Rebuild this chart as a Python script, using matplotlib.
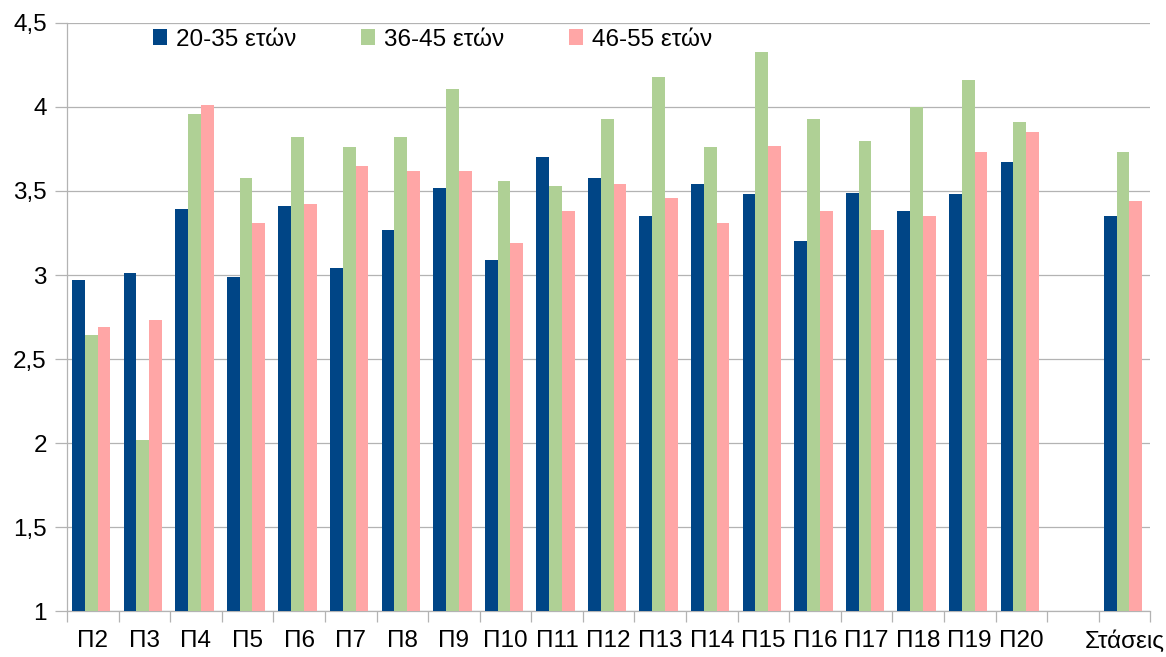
import numpy as np
import matplotlib
matplotlib.use("Agg")
import matplotlib.pyplot as plt
from matplotlib.patches import Patch

plt.rcParams['font.family'] = ['Liberation Sans', 'DejaVu Sans']

categories = ["Π2", "Π3", "Π4", "Π5", "Π6", "Π7", "Π8", "Π9", "Π10", "Π11",
              "Π12", "Π13", "Π14", "Π15", "Π16", "Π17", "Π18", "Π19", "Π20",
              "", "Στάσεις"]

age_20_35 = [2.97, 3.01, 3.39, 2.99, 3.41, 3.04, 3.27, 3.52, 3.09, 3.70,
             3.58, 3.35, 3.54, 3.48, 3.20, 3.49, 3.38, 3.48, 3.67,
             np.nan, 3.35]
age_36_45 = [2.64, 2.02, 3.96, 3.58, 3.82, 3.76, 3.82, 4.11, 3.56, 3.53,
             3.93, 4.18, 3.76, 4.33, 3.93, 3.80, 4.00, 4.16, 3.91,
             np.nan, 3.73]
age_46_55 = [2.69, 2.73, 4.01, 3.31, 3.42, 3.65, 3.62, 3.62, 3.19, 3.38,
             3.54, 3.46, 3.31, 3.77, 3.38, 3.27, 3.35, 3.73, 3.85,
             np.nan, 3.44]

series_names = ["20-35 ετών", "36-45 ετών", "46-55 ετών"]
colors = ["#004586", "#afd095", "#ffa6a6"]

y_ticks = [1, 1.5, 2, 2.5, 3, 3.5, 4, 4.5]
y_labels = ["1", "1,5", "2", "2,5", "3", "3,5", "4", "4,5"]

FS = 17.5

fig = plt.figure(figsize=(11.66, 6.57), dpi=100)
ax = fig.add_axes([0.0575, 0.070, 0.929, 0.895])

x = np.arange(len(categories))
w = 0.248
for i, (vals, col) in enumerate(zip([age_20_35, age_36_45, age_46_55], colors)):
    ax.bar(x + (i - 1) * w - 0.03, vals, width=w, color=col, zorder=3)

ax.set_ylim(1, 4.5)
ax.set_xlim(-0.5, len(categories) - 0.5)

ax.set_yticks(y_ticks)
ax.set_yticklabels(y_labels, fontsize=FS)
ax.tick_params(axis='y', length=8.6, width=0.9, color='#b3b3b3', pad=6)
ax.grid(axis='y', color='#b3b3b3', linewidth=0.9, zorder=0)

ax.set_xticks(np.arange(len(categories) + 1) - 0.5)
ax.set_xticklabels([])
ax.tick_params(axis='x', which='major', length=8, width=0.9, color='#b3b3b3')
ax.set_xticks(x, minor=True)
ax.set_xticklabels(categories, minor=True, fontsize=FS)
ax.tick_params(axis='x', which='minor', length=0, pad=14)

for s in ['top', 'right']:
    ax.spines[s].set_visible(False)
for s in ['left', 'bottom']:
    ax.spines[s].set_color('#b3b3b3')
    ax.spines[s].set_linewidth(0.9)

handles = [Patch(facecolor=c, label=n) for c, n in zip(colors, series_names)]
ax.legend(handles=handles, ncol=3, loc='upper left', bbox_to_anchor=(0.070, 1.007),
          frameon=False, fontsize=FS, handlelength=0.58, handleheight=0.58,
          handletextpad=0.37, columnspacing=2.67, borderaxespad=0)

fig.savefig("out.png", dpi=100)
